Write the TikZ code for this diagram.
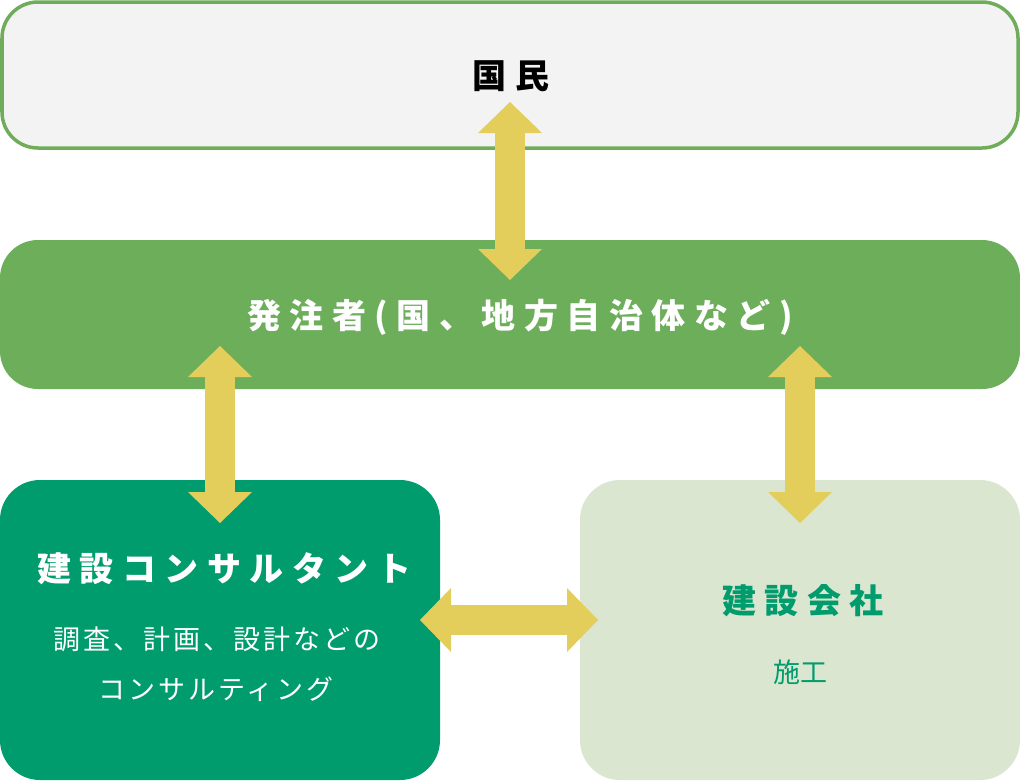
\documentclass[tikz,border=0pt]{standalone}
\usepackage{fontspec}
\usetikzlibrary{arrows.meta}
\newfontfamily\jptitle{Noto Sans CJK JP}[LetterSpace=25]
\newfontfamily\jpsub{Noto Sans CJK JP}[LetterSpace=11]
\newfontfamily\jpplain{Noto Sans CJK JP}
\definecolor{frame}{HTML}{6FAD5A}
\definecolor{topfill}{HTML}{F3F3F3}
\definecolor{midfill}{HTML}{6DAE5B}
\definecolor{consfill}{HTML}{019C6D}
\definecolor{compfill}{HTML}{DAE6CF}
\definecolor{arrowy}{HTML}{E3CE5B}
\tikzset{
  box/.style={rectangle, inner sep=0pt, outer sep=0pt},
  titletext/.style={anchor=base, inner sep=0pt, font=\jptitle\bfseries\fontsize{34}{40}\selectfont},
  subtext/.style={anchor=base, inner sep=0pt, font=\jpsub\fontsize{27}{32}\selectfont},
  dblarrow/.style={draw=arrowy, line width=30pt, line cap=butt,
    {Triangle[length=31pt,width=64pt,line width=0pt]}-{Triangle[length=31pt,width=64pt,line width=0pt]}},
}
\begin{document}
\begin{tikzpicture}[x=1pt,y=-1pt]
\useasboundingbox (0,0) rectangle (1020,780);
\fill[white] (0,0) rectangle (1020,780);
% boxes
\node[box, draw=frame, line width=3.5pt, fill=topfill, rounded corners=36pt,
  minimum width=1016pt, minimum height=146pt] (kokumin) at (510,75) {};
\node[box, fill=midfill, rounded corners=38pt,
  minimum width=1020pt, minimum height=149pt] (hatchu) at (510,314.5) {};
\node[box, fill=consfill, rounded corners=40pt,
  minimum width=440pt, minimum height=300pt] (cons) at (220,630) {};
\node[box, fill=compfill, rounded corners=40pt,
  minimum width=440pt, minimum height=300pt] (comp) at (800,630) {};
% texts
\node[titletext, text=black] (t1) at (511,88) {国民};
\node[titletext, text=white] (t2) at (520,328) {発注者(国、地方自治体など)};
\node[titletext, text=white] (t3) at (224,581) {建設コンサルタント};
\node[subtext, text=white] (t4) at (217,649) {調査、計画、設計などの};
\node[subtext, text=white] (t5) at (216,699) {コンサルティング};
\node[titletext, text=consfill] (t6) at (803,613) {建設会社};
\node[anchor=base, inner sep=0pt, text=consfill, font=\jpplain\fontsize{27}{32}\selectfont] (t7) at (800,682) {施工};
% arrows
\coordinate (a1s) at (510,102);
\coordinate (a1e) at (510,280);
\coordinate (a2s) at (220,346);
\coordinate (a2e) at (220,523);
\coordinate (a3s) at (800,346);
\coordinate (a3e) at (800,523);
\coordinate (a4s) at (420,620);
\coordinate (a4e) at (598,620);
\draw[dblarrow] (a1s) -- (a1e);
\draw[dblarrow] (a2s) -- (a2e);
\draw[dblarrow] (a3s) -- (a3e);
\draw[dblarrow] (a4s) -- (a4e);
\end{tikzpicture}
\end{document}
